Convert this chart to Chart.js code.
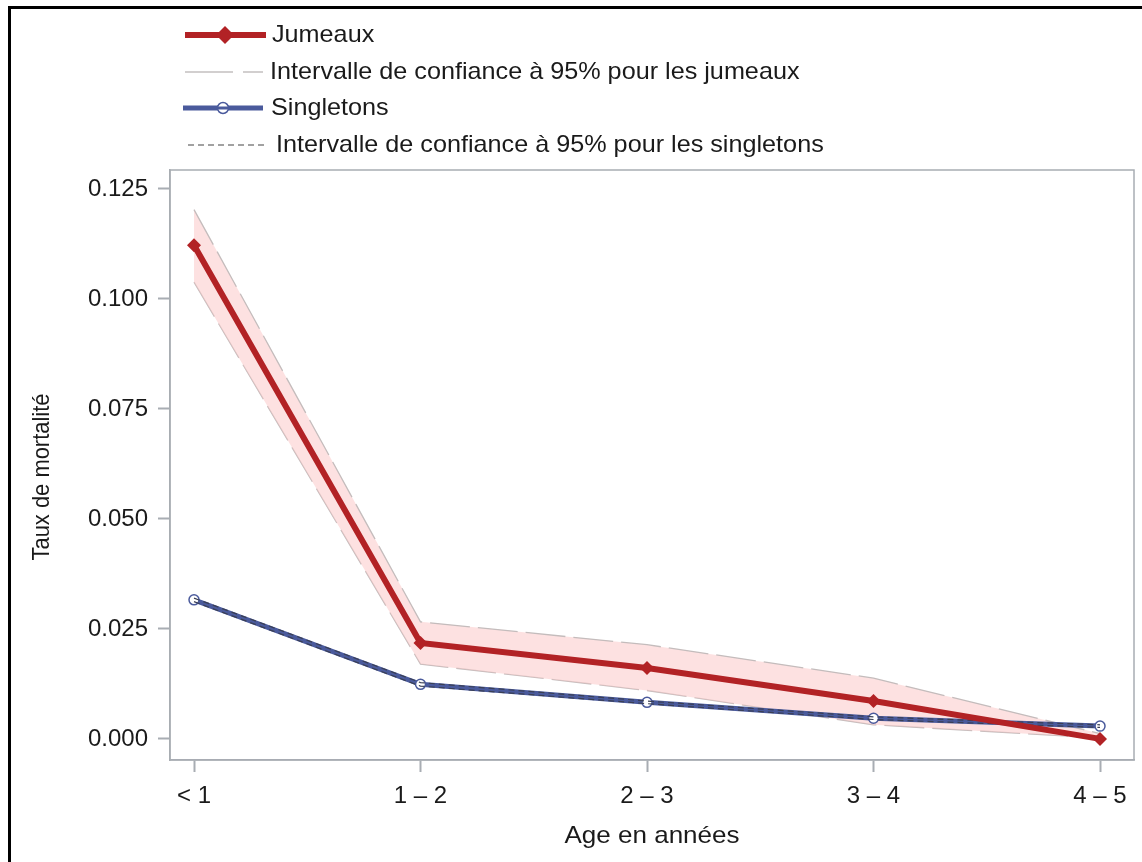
<!DOCTYPE html>
<html>
<head>
<meta charset="utf-8">
<script src="https://cdn.jsdelivr.net/npm/chart.js@4.4.1/dist/chart.umd.min.js"></script>
<style>
  html, body { margin: 0; padding: 0; background: #fff; }
  #wrap { position: relative; width: 1142px; height: 862px; overflow: hidden; font-family: "Liberation Sans", Arial, sans-serif; }
  #frame { position: absolute; left: 8px; top: 6px; width: 1140px; height: 870px; border-top: 3px solid #000; border-left: 3px solid #000; box-sizing: border-box; }
  #chart { position: absolute; left: 0; top: 0; }
  .leg { position: absolute; font-size: 24px; color: #1a1a1a; line-height: 28px; white-space: nowrap; transform-origin: 0 50%; transform: scaleX(1.05); }
  .sym { position: absolute; }
</style>
</head>
<body>
<div id="wrap">
  <canvas id="chart" width="1142" height="862"></canvas>
  <div id="frame"></div>

  <svg class="sym" style="left:180px;top:23px" width="92" height="24">
    <line x1="5" y1="12" x2="86" y2="12" stroke="#b22225" stroke-width="6"/>
    <polygon points="45,3 54,12 45,21 36,12" fill="#b22225"/>
  </svg>
  <div class="leg" style="left:272px;top:20px">Jumeaux</div>

  <svg class="sym" style="left:180px;top:60px" width="92" height="24">
    <line x1="5" y1="12" x2="83" y2="12" stroke="#c4c0c0" stroke-width="1.5" stroke-dasharray="48,10"/>
  </svg>
  <div class="leg" style="left:270px;top:57px">Intervalle de confiance à 95% pour les jumeaux</div>

  <svg class="sym" style="left:180px;top:96px" width="92" height="24">
    <line x1="3" y1="12" x2="83" y2="12" stroke="#4a5a9c" stroke-width="5"/>
    <circle cx="43" cy="12" r="5.5" fill="#fff" stroke="#4a5a9c" stroke-width="1.5"/>
    <line x1="38" y1="12" x2="48" y2="12" stroke="#4a5a9c" stroke-width="3"/>
  </svg>
  <div class="leg" style="left:271px;top:93px">Singletons</div>

  <svg class="sym" style="left:180px;top:133px" width="92" height="24">
    <line x1="8" y1="12" x2="88" y2="12" stroke="#444" stroke-width="1.2" stroke-dasharray="6,4"/>
  </svg>
  <div class="leg" style="left:276px;top:130px">Intervalle de confiance à 95% pour les singletons</div>
</div>
<script>
// Age groups (x axis) and y tick values
const ageGroups = ['< 1', '1 \u2013 2', '2 \u2013 3', '3 \u2013 4', '4 \u2013 5'];
const yTicks = [0, 0.025, 0.05, 0.075, 0.1, 0.125];

// Mortality rates, twins
const twins = [0.1122, 0.0218, 0.0161, 0.0086, 0.0000];
const twinsUpper = [0.1203, 0.0266, 0.0214, 0.0138, 0.0012];
const twinsLower = [0.1038, 0.0170, 0.0110, 0.0032, 0.0002];

// Mortality rates, singletons
const singles = [0.0316, 0.0124, 0.0083, 0.0047, 0.0029];
const singlesUpper = [0.0320, 0.0128, 0.0086, 0.0050, 0.0032];
const singlesLower = [0.0312, 0.0120, 0.0080, 0.0044, 0.0026];

const pts = arr => arr.map((v, i) => ({ x: i, y: v }));

const RED = '#b22225';
const BLUE = '#4a5a9c';
const AXIS = '#a8adb3';
const FONT = '"Liberation Sans", Arial, sans-serif';

// Axis titles drawn on the canvas, stretched to a set length
function fitText(ctx, text, x, y, size, length, angle) {
  ctx.save();
  ctx.font = size + 'px ' + FONT;
  const w = ctx.measureText(text).width;
  ctx.translate(x, y);
  ctx.rotate(angle);
  ctx.scale(length / w, 1);
  ctx.fillText(text, 0, 0);
  ctx.restore();
}

const axisTitles = {
  id: 'axisTitles',
  afterDraw(chart) {
    const { ctx, chartArea } = chart;
    ctx.save();
    ctx.fillStyle = '#1a1a1a';
    ctx.textAlign = 'center';
    ctx.textBaseline = 'middle';
    fitText(ctx, 'Age en ann\u00e9es', (chartArea.left + chartArea.right) / 2, 836, 24, 175, 0);
    fitText(ctx, 'Taux de mortalit\u00e9', 42, 477, 24, 167, -Math.PI / 2);
    ctx.restore();
  }
};

new Chart(document.getElementById('chart'), {
  type: 'line',
  data: {
    datasets: [
      { label: 'Jumeaux', data: pts(twins), borderColor: RED, backgroundColor: RED, borderWidth: 6,
        pointStyle: 'rectRot', pointRadius: 7, pointBorderWidth: 0, fill: false },
      { label: 'IC singletons haut', data: pts(singlesUpper), borderColor: '#3a3f55', borderWidth: 1.2,
        borderDash: [6, 4], pointRadius: 0, fill: false },
      { label: 'IC singletons bas', data: pts(singlesLower), borderColor: '#3a3f55', borderWidth: 1.2,
        borderDash: [6, 4], pointRadius: 0, fill: false },
      { label: 'Singletons', data: pts(singles), borderColor: BLUE, backgroundColor: '#fff', borderWidth: 5,
        pointStyle: 'circle', pointRadius: 5, pointBorderWidth: 1.5, pointBorderColor: BLUE, fill: false },
      { label: 'IC jumeaux haut', data: pts(twinsUpper), borderColor: '#c4bcbc', borderWidth: 1.3,
        borderDash: [40, 8], pointRadius: 0, backgroundColor: 'rgba(252,200,200,0.55)', fill: '+1' },
      { label: 'IC jumeaux bas', data: pts(twinsLower), borderColor: '#c4bcbc', borderWidth: 1.3,
        borderDash: [40, 8], pointRadius: 0, fill: false }
    ]
  },
  options: {
    responsive: false,
    animation: false,
    layout: { padding: { left: 0, top: 170, right: 8, bottom: 0 } },
    plugins: { legend: { display: false }, tooltip: { enabled: false } },
    scales: {
      x: {
        type: 'linear', min: -0.106, max: 4.15,
        afterFit(s) { s.height = 102; },
        afterBuildTicks(s) { s.ticks = ageGroups.map((_, i) => ({ value: i })); },
        grid: { display: true, drawOnChartArea: false, drawTicks: true, tickLength: 12, tickColor: AXIS, tickWidth: 2 },
        border: { display: true, color: AXIS, width: 1.5 },
        ticks: { color: '#1a1a1a', font: { family: FONT, size: 24 }, padding: 10,
          callback: v => ageGroups[v], maxRotation: 0 }
      },
      y: {
        type: 'linear', min: -0.0048, max: 0.1293,
        afterFit(s) { s.width = 170; },
        afterBuildTicks(s) { s.ticks = yTicks.map(v => ({ value: v })); },
        grid: { display: true, drawOnChartArea: false, drawTicks: true, tickLength: 12, tickColor: AXIS, tickWidth: 2 },
        border: { display: true, color: AXIS, width: 1.5 },
        ticks: { color: '#1a1a1a', font: { family: FONT, size: 24 }, padding: 10,
          callback: v => v.toFixed(3) }
      }
    }
  },
  plugins: [axisTitles, {
    // box around the plot area
    id: 'plotFrame',
    afterDraw(chart) {
      const { ctx, chartArea: a } = chart;
      ctx.save();
      ctx.strokeStyle = AXIS;
      ctx.lineWidth = 1.5;
      ctx.strokeRect(a.left, a.top, a.right - a.left, a.bottom - a.top);
      ctx.restore();
    }
  }]
});
</script>
</body>
</html>
